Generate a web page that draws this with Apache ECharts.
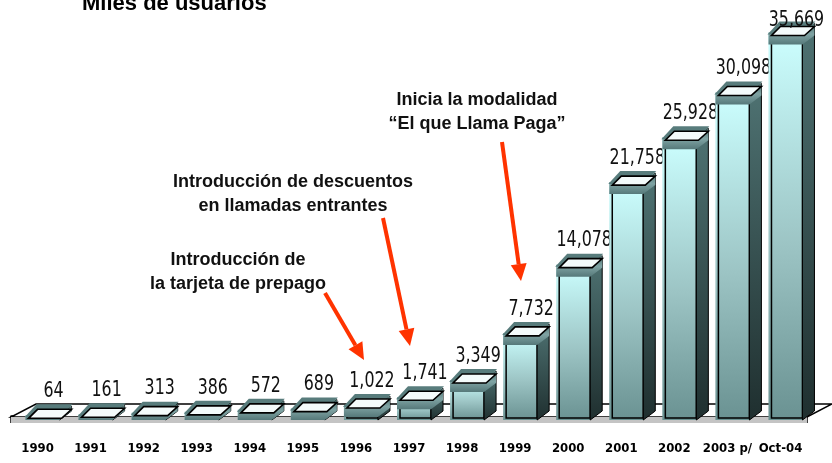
<!DOCTYPE html>
<html>
<head>
<meta charset="utf-8">
<script src="https://cdn.jsdelivr.net/npm/echarts@6/dist/echarts.min.js"></script>
<style>
  html, body { margin: 0; padding: 0; background: #fff; }
  #chart { width: 832px; height: 463px; }
</style>
</head>
<body>
<div id="chart"></div>
<script>
var myChart = echarts.init(document.getElementById('chart'));

// categorias y valores (miles de usuarios)
var years = ['1990', '1991', '1992', '1993', '1994', '1995', '1996', '1997', '1998',
  '1999', '2000', '2001', '2002', '2003 p/', 'Oct-04'];
var usuarios = [64, 161, 313, 386, 572, 689, 1022, 1741, 3349, 7732, 14078, 21758, 25928, 30098, 35669];
var labels = ['64', '161', '313', '386', '572', '689', '1,022', '1,741', '3,349', '7,732',
  '14,078', '21,758', '25,928', '30,098', '35,669'];

var narrow = '"DejaVu Sans Condensed", "Liberation Sans Narrow", sans-serif';
var sans = '"Liberation Sans", Arial, sans-serif';
var RED = '#ff3300';
var TEAL = '#587c7c';

// barra 3D: frente, lado, banda oscura y tapa
function renderBar(params, api) {
  var i = api.value(0);
  var p = api.coord([i, api.value(1)]);
  var p0 = api.coord([i, 0]);
  var cx = p[0], y = p[1];
  var B = p0[1] + 4;
  var fx0 = cx - 12, fx1 = cx + 22, sw = 12, sd = 9;
  var yb = Math.min(y + 12, B);
  var children = [
    {
      type: 'rect',
      shape: { x: fx0, y: y, width: fx1 - fx0, height: B - y },
      style: {
        fill: new echarts.graphic.LinearGradient(0, 0, 0, 1, [
          { offset: 0, color: '#ccffff' },
          { offset: 0.55, color: '#9cc4c4' },
          { offset: 1, color: '#6a9292' }
        ])
      }
    },
    {
      type: 'rect',
      shape: { x: fx0 + 3, y: Math.min(y + 10, B - 3), width: fx1 - fx0 - 3, height: Math.max(B - 2 - (y + 10), 1) },
      style: { fill: null, stroke: '#000', lineWidth: 1.5 }
    },
    {
      type: 'polygon',
      shape: { points: [[fx1, y], [fx1 + sw, y - sd], [fx1 + sw, B - sd], [fx1, B]] },
      style: {
        fill: new echarts.graphic.LinearGradient(0, 0, 0, 1, [
          { offset: 0, color: '#4f7373' },
          { offset: 1, color: '#1f2f2f' }
        ]),
        stroke: '#000', lineWidth: 1
      }
    },
    {
      type: 'polygon',
      shape: { points: [[fx0, y], [fx1, y], [fx1 + sw, y - sd], [fx1 + sw, yb - sd], [fx1, yb], [fx0, yb]] },
      style: {
        fill: new echarts.graphic.LinearGradient(0, 0, 0, 1, [
          { offset: 0, color: '#4d7070' },
          { offset: 0.5, color: '#7fa3a3' },
          { offset: 1, color: '#56797a' }
        ])
      }
    },
    {
      type: 'polygon',
      shape: { points: [[fx0 - 1, y + 2], [fx1 + 1, y + 2], [fx1 + sw + 1, y - sd - 2], [fx0 + sw - 1, y - sd - 2]] },
      style: { fill: TEAL }
    },
    {
      type: 'polygon',
      shape: { points: [[fx0 + 3, y + 3], [fx1 + 2, y + 3], [fx1 + sw, y - 6], [fx0 + 12, y - 6]] },
      style: { fill: '#f4fbfb', stroke: '#000', lineWidth: 1.6 }
    },
    {
      type: 'text',
      x: cx + 16,
      y: Math.max(y - 24, 20),
      scaleX: 0.8,
      style: {
        text: labels[i],
        x: 0,
        y: 0,
        align: 'center',
        verticalAlign: 'middle',
        font: '22px ' + narrow,
        fill: '#111'
      }
    }
  ];
  return { type: 'group', children: children };
}

// piso del grafico
function renderFloor(params, api) {
  var cs = params.coordSys;
  var y0 = api.coord([0, 0])[1];
  var x0 = cs.x, x1 = cs.x + cs.width;
  return {
    type: 'group',
    children: [
      {
        type: 'polygon',
        shape: { points: [[x0, y0 + 1], [x1, y0 + 1], [x1 + 25, y0 - 12], [x0 + 25, y0 - 12]] },
        style: { fill: '#fff', stroke: '#000', lineWidth: 1.5 }
      },
      {
        type: 'rect',
        shape: { x: x0, y: y0 + 1, width: x1 - x0, height: 6 },
        style: { fill: '#c4c4c4' }
      }
    ]
  };
}

function arrow(x1, y1, x2, y2) {
  var dx = x2 - x1, dy = y2 - y1, len = Math.sqrt(dx * dx + dy * dy);
  var ux = dx / len, uy = dy / len;
  var hl = 17, hw = 8;
  var bx = x2 - ux * hl, by = y2 - uy * hl;
  return [
    { type: 'line', shape: { x1: x1, y1: y1, x2: bx, y2: by }, style: { stroke: RED, lineWidth: 4 } },
    { type: 'polygon', shape: { points: [[x2, y2], [bx - uy * hw, by + ux * hw], [bx + uy * hw, by - ux * hw]] }, style: { fill: RED } }
  ];
}

function note(x, y, text) {
  return {
    type: 'text',
    style: {
      text: text, x: x, y: y, align: 'center', verticalAlign: 'middle',
      font: 'bold 18px ' + sans, fill: '#111', lineHeight: 24
    }
  };
}

var graphics = [
  { type: 'text', style: { text: 'Miles de usuarios', x: 82, y: 15, verticalAlign: 'bottom', font: 'bold 22px ' + sans, fill: '#000' } },
  note(477, 112, 'Inicia la modalidad\n“El que Llama Paga”'),
  note(293, 194, 'Introducción de descuentos\nen llamadas entrantes'),
  note(238, 272, 'Introducción de\nla tarjeta de prepago')
].concat(arrow(502, 142, 521, 281), arrow(383, 218, 410, 346), arrow(325, 293, 364, 360));

var option = {
  animation: false,
  backgroundColor: '#fff',
  grid: { left: 11, right: 25, top: 29, bottom: 47 },
  xAxis: {
    type: 'category',
    data: years,
    offset: 7,
    axisLine: { lineStyle: { color: '#000', width: 1.5 } },
    axisTick: { show: true, length: 7, lineStyle: { color: '#000', width: 1.5 } },
    axisLabel: { interval: 0, margin: 19, color: '#000', fontWeight: 'bold', fontSize: 13, fontFamily: narrow }
  },
  yAxis: {
    type: 'value',
    min: 0,
    max: 36000,
    show: false,
    splitLine: { show: false }
  },
  graphic: graphics,
  series: [
    {
      type: 'custom',
      renderItem: renderFloor,
      data: [[0, 0]],
      z: 1,
      silent: true
    },
    {
      type: 'custom',
      renderItem: renderBar,
      encode: { x: 0, y: 1 },
      data: usuarios.map(function (v, i) { return [i, v]; }),
      z: 2
    }
  ]
};

myChart.setOption(option);
</script>
</body>
</html>
